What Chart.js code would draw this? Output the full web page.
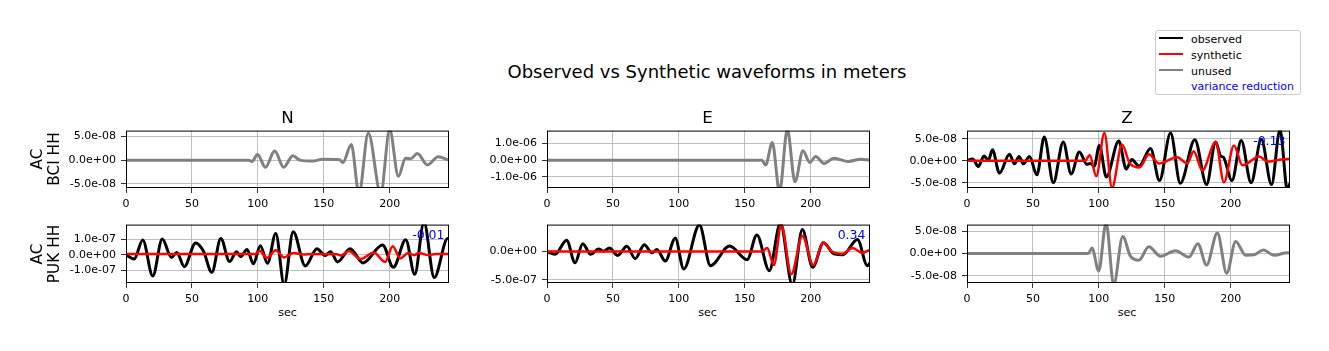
<!DOCTYPE html>
<html>
<head>
<meta charset="utf-8">
<script src="https://cdn.jsdelivr.net/npm/chart.js@4.4.0/dist/chart.umd.min.js"></script>
<style>
body { margin:0; background:#fff; font-family:"DejaVu Sans", sans-serif; }
#fig { position:relative; width:1329px; height:351px; overflow:hidden; background:#fff; }
canvas { position:absolute; }
.t { position:absolute; white-space:nowrap; color:#000; line-height:1; transform:translate(-50%,-50%); }
.rowlab { position:absolute; width:120px; height:34px; font-size:15.3px; line-height:17px; text-align:center;
          transform:translate(-50%,-50%) rotate(-90deg); }
#legend { position:absolute; left:1155px; top:30px; width:144px; height:63px; border:1px solid #cccccc;
          border-radius:3px; background:rgba(255,255,255,0.8); }
.lg-line { position:absolute; left:1159px; width:24px; height:2px; }
.lg-txt { position:absolute; left:1191px; font-size:11px; line-height:1; transform:translateY(-50%); white-space:nowrap; }
</style>
</head>
<body>
<div id="fig">
  <canvas id="c0" width="411" height="91" style="left:46px;top:119px"></canvas>
  <canvas id="c1" width="411" height="91" style="left:467px;top:119px"></canvas>
  <canvas id="c2" width="411" height="91" style="left:887px;top:119px"></canvas>
  <canvas id="c3" width="411" height="92" style="left:46px;top:213px"></canvas>
  <canvas id="c4" width="411" height="92" style="left:467px;top:213px"></canvas>
  <canvas id="c5" width="411" height="92" style="left:887px;top:213px"></canvas>

  <div class="t" style="left:707px;top:72px;font-size:18px">Observed vs Synthetic waveforms in meters</div>
  <div class="t" style="left:287.5px;top:116.5px;font-size:16.7px">N</div>
  <div class="t" style="left:707.5px;top:116.5px;font-size:16.7px">E</div>
  <div class="t" style="left:1127px;top:116.5px;font-size:16.7px">Z</div>
  <div class="t" style="left:287.5px;top:313px;font-size:11.1px">sec</div>
  <div class="t" style="left:707.5px;top:313px;font-size:11.1px">sec</div>
  <div class="t" style="left:1127px;top:313px;font-size:11.1px">sec</div>
  <div class="rowlab" style="left:46px;top:158.5px">AC<br>BCI HH</div>
  <div class="rowlab" style="left:46px;top:253.5px">AC<br>PUK HH</div>

  <div id="legend"></div>
  <div class="lg-line" style="top:37px;background:#000"></div>
  <div class="lg-line" style="top:53px;background:#ff0000"></div>
  <div class="lg-line" style="top:69px;background:#808080"></div>
  <div class="lg-txt" style="top:38.5px">observed</div>
  <div class="lg-txt" style="top:54.5px">synthetic</div>
  <div class="lg-txt" style="top:70.5px">unused</div>
  <div class="lg-txt" style="top:86px;color:#0000ff">variance reduction</div>
</div>
<script>
// all amplitudes in nanometres, time in seconds
const X_MAX = 245;
const xTicks = [0, 50, 100, 150, 200];

// BCI HH - N (unused)
const bciN_unused = [[0,0],[93,0],[95.5,-3],[99.8,12],[105.7,-15],[112.8,19],[119.6,-15],[126.5,9],[132,0],
  [142,-2],[149,2],[162,1],[164.5,-5],[170.9,33],[176.7,-70],[183.8,57],[193.2,-70],[200,64],[206.6,-34],
  [212,4],[216,3],[221,14],[228.7,-10],[236.8,7],[245,0]];

// BCI HH - E (unused)
const bciE_unused = [[0,0],[163,0],[165.8,-300],[170.9,1060],[176.4,-1900],[182.3,1850],[188.1,-1300],
  [194.2,560],[199.3,-140],[203.8,220],[210.2,-200],[217.7,120],[228.6,-80],[238,60],[245,0]];

// BCI HH - Z
const bciZ_observed = [[0,1],[4.3,4],[8.6,-13],[12.9,11],[16.2,1],[19.3,25],[24.6,-28],[32.2,15],[36,-7],
  [39.5,10],[42.8,-7],[47.4,10],[53,-32],[58.6,54],[65.5,-50],[73,43],[79,-30],[85.2,20],[91,-8],[93.5,-6],
  [96.5,-12],[100.4,35],[105.7,-37],[115.1,45],[120.8,-19],[125,3],[130.5,-12],[139.2,28],[146,-45],
  [154.4,63],[161.8,-51],[172.8,48],[181.7,-54],[188.6,43],[192.4,11],[194.5,8],[201,-45],[208,46],
  [215.5,-50],[223.2,49],[231,-54],[237.4,70],[243.2,-70],[245,-50]];
const bciZ_synthetic = [[0,0],[89.7,0],[93,13],[98.1,-35],[104.2,63],[110,-61],[117.6,37],[123.5,-6],
  [131,-15],[138,15],[145.5,-6],[159.5,8],[167,-6],[172,22],[178.5,-22],[188.6,43],[194.9,-49],[202.5,35],
  [208.9,-10],[212,-7],[221.6,10],[228,-2],[236,2],[243,4],[245,4]];

// PUK HH - N
const pukN_observed = [[0,0],[6.2,-27],[12.7,96],[20.3,-137],[27.5,102],[34.5,-17],[38.5,15],[44.2,-77],
  [52.8,77],[58.8,23],[65.1,-114],[71.9,106],[78.6,-44],[83.8,20],[87,-13],[91.8,35],[96.6,-58],[101.9,58],
  [107.3,-55],[113.6,138],[120,-195],[126.8,150],[136,-72],[144.8,40],[151,-4],[155.2,20],[160.5,-46],
  [170,40],[179.8,-53],[194.6,64],[202.8,-81],[212.2,98],[219,-127],[226,210],[233.8,-148],[244,106],[245,105]];
const pukN_synthetic = [[0,5],[98,5],[101.5,25],[107,-21],[113.5,30],[119.8,-17],[127,12],[135,2],[140,5],
  [160,3],[163,-5],[169,25],[178,-28],[188,15],[196.5,-46],[202.3,56],[208,-24],[214.2,12],[218.5,-2],
  [222.3,11],[229.4,-2],[235,5],[245,5]];

// PUK HH - E
const pukE_observed = [[0,0],[6.1,-50],[14.9,200],[21.3,-200],[27.1,140],[33.2,-50],[39,46],[42.8,5],
  [47.4,63],[53.5,-69],[60.6,92],[66.9,-126],[73.8,120],[79.6,-23],[83.4,35],[89.7,-167],[97.3,236],
  [103.7,-310],[115.6,470],[124,-250],[138.5,100],[151.8,-144],[159.2,293],[168.6,-340],[177,500],
  [186.1,-590],[193.7,390],[201.5,-280],[209.7,155],[217.7,-40],[224.5,-55],[235.5,215],[243,-250],[245,-200]];
const pukE_synthetic = [[0,0],[163.2,0],[167,63],[172.1,-240],[177.7,480],[185.3,-400],[193.7,276],
  [202,-240],[209.6,160],[216,0],[224.1,-40],[231.7,63],[239.3,-23],[244.4,23],[245,25]];

// PUK HH - Z (unused)
const pukZ_unused = [[0,0],[92,0],[94.8,12],[99.9,-39],[105.5,68],[111.3,-70],[118.1,38],[124,-6],
  [130.3,-15],[137.9,15],[146.8,-6],[158.2,6],[168.4,-8],[175.1,22],[181.7,-26],[189.9,46],[197,-44],
  [203.8,27],[211.4,-4],[217.7,-3],[224.8,8],[232.9,-4],[243,1.5],[245,1]];

// variance reduction per panel (row 1: N E Z, row 2: N E Z)
const varReduction = [null, null, -0.13, -0.01, 0.34, null];

// y limits and ticks (nm)
const yLimits = [[-58.6, 62.1], [-1680, 1780], [-61.9, 68.7], [-183, 196], [-557, 477], [-65.9, 64.5]];
const yTicks = [[-50, 0, 50], [-1000, 0, 1000], [-50, 0, 50], [-100, 0, 100], [-500, 0], [-50, 0, 50]];

const BLACK = "#000000", RED = "#ff0000", GREY = "#808080";
const panelSeries = [
  [[bciN_unused, GREY]],
  [[bciE_unused, GREY]],
  [[bciZ_synthetic, RED], [bciZ_observed, BLACK]],
  [[pukN_synthetic, RED], [pukN_observed, BLACK]],
  [[pukE_synthetic, RED], [pukE_observed, BLACK]],
  [[pukZ_unused, GREY]]
];

function sci(v) {
    const m = v * 1e-9;
    if (Math.abs(m) < 1e-30) return "0.0e+00";
    const parts = m.toExponential(1).split("e");
    const n = parseInt(parts[1], 10);
    return parts[0] + "e" + (n < 0 ? "-" : "+") + String(Math.abs(n)).padStart(2, "0");
}

const framePlugin = {
    id: "frame",
    afterDatasetsDraw(chart) {
        const ctx = chart.ctx, a = chart.chartArea;
        ctx.save();
        ctx.strokeStyle = "#000";
        ctx.lineWidth = 1;
        ctx.strokeRect(a.left + 0.5, a.top + 0.5, a.right - a.left - 1, a.bottom - a.top - 1);
        const vr = chart.options.plugins.frame.varred;
        if (vr !== null && vr !== undefined) {
            ctx.fillStyle = "#0000ff";
            ctx.font = '12.5px "DejaVu Sans"';
            ctx.textAlign = "right";
            ctx.textBaseline = "alphabetic";
            ctx.fillText(vr.toFixed(2), a.right - 4.5, a.top + 14);
        }
        ctx.restore();
    }
};

const tickFont = { family: "DejaVu Sans", size: 11 };
const gridStyle = { color: "#b0b0b0", lineWidth: 0.8, tickLength: 5, tickColor: "#000" };

panelSeries.forEach(function (series, i) {
    new Chart(document.getElementById("c" + i), {
        type: "line",
        data: {
            datasets: series.map(function (s) {
                return {
                    data: s[0].map(p => ({ x: p[0], y: p[1] })),
                    borderColor: s[1],
                    borderWidth: s[1] === RED ? 2.5 : 3,
                    pointRadius: 0,
                    cubicInterpolationMode: "monotone",
                    clip: 0,
                    fill: false
                };
            })
        },
        options: {
            responsive: false,
            animation: false,
            layout: { padding: { top: 10, right: 8, left: 0, bottom: 0 } },
            plugins: { legend: { display: false }, tooltip: { enabled: false }, frame: { varred: varReduction[i] } },
            scales: {
                x: {
                    type: "linear", min: 0, max: X_MAX,
                    afterBuildTicks: s => { s.ticks = xTicks.map(v => ({ value: v })); },
                    afterFit: s => { s.height = 22; },
                    grid: gridStyle,
                    border: { display: false },
                    ticks: { color: "#000", font: tickFont, padding: 5, maxRotation: 0, autoSkip: false }
                },
                y: {
                    type: "linear", min: yLimits[i][0], max: yLimits[i][1],
                    afterBuildTicks: s => { s.ticks = yTicks[i].map(v => ({ value: v })); },
                    afterFit: s => { s.width = 80; },
                    grid: gridStyle,
                    border: { display: false },
                    ticks: { color: "#000", font: tickFont, padding: 5, autoSkip: false, callback: v => sci(v) }
                }
            }
        },
        plugins: [framePlugin]
    });
});
</script>
</body>
</html>
